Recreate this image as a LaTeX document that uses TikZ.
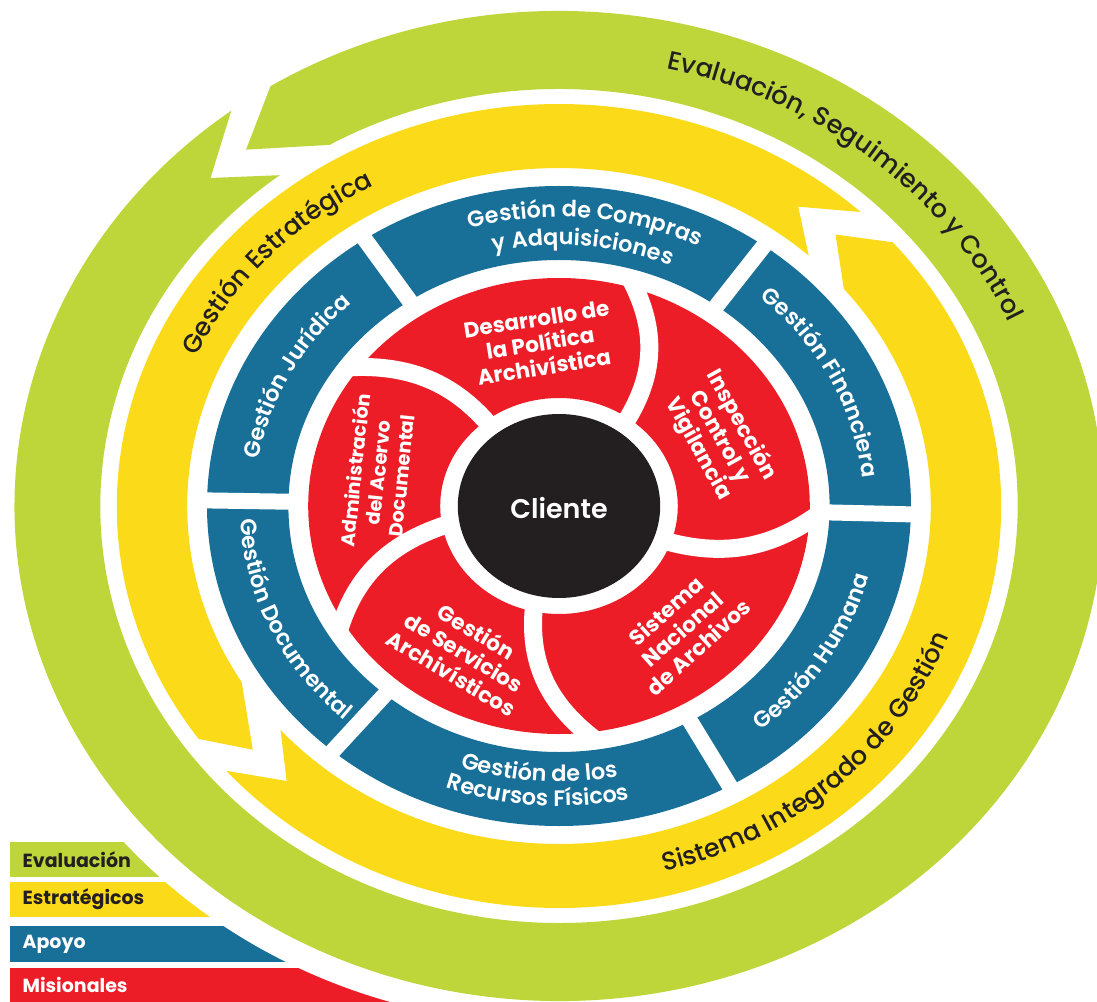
\documentclass[tikz,border=0pt]{standalone}
\usepackage{fontspec}
\setmainfont{Poppins}
\newfontfamily\medfont{Poppins Medium}
\newfontfamily\semifont{Poppins SemiBold}
\usetikzlibrary{decorations.text}

\definecolor{evalgreen}{RGB}{190,214,58}
\definecolor{stratyellow}{RGB}{251,219,25}
\definecolor{supportblue}{RGB}{24,111,152}
\definecolor{missionred}{RGB}{236,29,39}
\definecolor{ink}{RGB}{35,31,32}

\newcommand\ringfont{\medfont\fontsize{12.8}{15}\selectfont}
\newcommand\apoyofont{\semifont\fontsize{11.2}{13}\selectfont}

\tikzset{
  curved/.style={decorate, decoration={text along path, text align=center, text color=#1}},
  gap/.style={white, line width=8pt},
  mision/.style={text=white, align=center, inner sep=0pt, font=\bfseries\fontsize{10.8}{12.2}\selectfont},
  legend/.style={anchor=west, inner sep=0pt, font=\bfseries\fontsize{9.5}{11}\selectfont},
}

\begin{document}
\begin{tikzpicture}[x=0.5pt, y=0.5pt, xscale=1.1]
  \useasboundingbox (-508.18,-495) rectangle (489.09,506);
  % legend bars, cut by the outer circle
  \fill[evalgreen] (-499,-336) rectangle (100,-371);
  \fill[stratyellow] (-499,-376) rectangle (100,-411);
  \fill[supportblue] (-499,-420) rectangle (100,-456);
  \fill[missionred] (-499,-462) rectangle (100,-500);
  \fill[white] (0,0) circle (519);
  \node[legend, text=ink] (evaluacion) at (-488,-353.5) {Evaluación};
  \node[legend, text=ink] (estrategicos) at (-488,-393.5) {Estratégicos};
  \node[legend, text=white] (apoyo) at (-488,-438) {Apoyo};
  \node[legend, text=white] (misionales) at (-488,-479) {Misionales};

  % evaluation ring
  \fill[evalgreen] (127:495) -- (134:456) -- (127.5:417)
    arc[start angle=127.5, end angle=480, radius=417]
    -- (488.6:456) -- (482:495)
    arc[start angle=482, end angle=127, radius=495] -- cycle;
  % strategic ring, two arrows
  \fill[stratyellow] (47:402) -- (54:370) -- (47.8:338)
    arc[start angle=47.8, end angle=211.4, radius=338]
    -- (221.2:370) -- (215.4:402)
    arc[start angle=215.4, end angle=47, radius=402] -- cycle;
  \fill[stratyellow] (221.2:402) -- (228:370) -- (221.5:338)
    arc[start angle=221.5, end angle=400, radius=338]
    -- (407.2:370) -- (401:402)
    arc[start angle=401, end angle=221.2, radius=402] -- cycle;

  % support ring
  \fill[supportblue, even odd rule] (0,0) circle (320) circle (246);
  \foreach \a in {123.5,54.4,-1.5,-61,230,179}
    \draw[gap] (\a:238) -- (\a:328);

  % mission ring
  \fill[missionred, even odd rule] (0,0) circle (228) circle (108);
  \foreach \i/\o in {54/74,-20/-2,-103/-82,190/212,128/144}
    \draw[white, line width=9pt] (\i:100) to[bend right=28] (\o:236);
  \fill[ink] (0,0) circle (92);
  \node[text=white, font=\semifont\fontsize{13.5}{15}\selectfont] (cliente) at (0,-2) {Cliente};

  % ring labels
  \path[curved=ink, decoration={text={|\ringfont|Gestión Estratégica}}]
    (177.5:362) arc[start angle=177.5, end angle=97.5, radius=362];
  \path[curved=ink, decoration={text={|\ringfont|Evaluación, Seguimiento y Control}}]
    (95:448) arc[start angle=95, end angle=5, radius=448];
  \path[curved=ink, decoration={text={|\ringfont|Sistema Integrado de Gestión}}]
    (-92:378) arc[start angle=-92, end angle=-2, radius=378];

  % support labels
  \path[curved=white, decoration={text={|\apoyofont|Gestión Jurídica}}]
    (182:277) arc[start angle=182, end angle=122, radius=277];
  \path[curved=white, decoration={text={|\apoyofont|Gestión de Compras}}]
    (125:289) arc[start angle=125, end angle=45, radius=289];
  \path[curved=white, decoration={text={|\apoyofont|y Adquisiciones}}]
    (125:261) arc[start angle=125, end angle=45, radius=261];
  \path[curved=white, decoration={text={|\apoyofont|Gestión Financiera}}]
    (57:277) arc[start angle=57, end angle=-3, radius=277];
  \path[curved=white, decoration={text={|\apoyofont|Gestión Humana}}]
    (-62:290) arc[start angle=-62, end angle=-2, radius=290];
  \path[curved=white, decoration={text={|\apoyofont|Gestión de los}}]
    (-134:276) arc[start angle=-134, end angle=-54, radius=276];
  \path[curved=white, decoration={text={|\apoyofont|Recursos Físicos}}]
    (-134:300) arc[start angle=-134, end angle=-54, radius=300];
  \path[curved=white, decoration={text={|\apoyofont|Gestión Documental}}]
    (175:290) arc[start angle=175, end angle=235, radius=290];

  % mission labels
  \node[mision, rotate=9] (desarrollo) at (-17,163) {Desarrollo de\\la Política\\Archivística};
  \node[mision, rotate=-61] (inspeccion) at (146,69) {Inspección\\Control y\\Vigilancia};
  \node[mision, rotate=42] (sistema) at (112,-123) {Sistema\\Nacional\\de Archivos};
  \node[mision, rotate=-31] (servicios) at (-86,-146) {Gestión\\de Servicios\\Archivísticos};
  \node[mision, rotate=84, font=\bfseries\fontsize{9.6}{11.6}\selectfont] (administracion) at (-165,33) {Administración\\del Acervo\\Documental};
\end{tikzpicture}
\end{document}
